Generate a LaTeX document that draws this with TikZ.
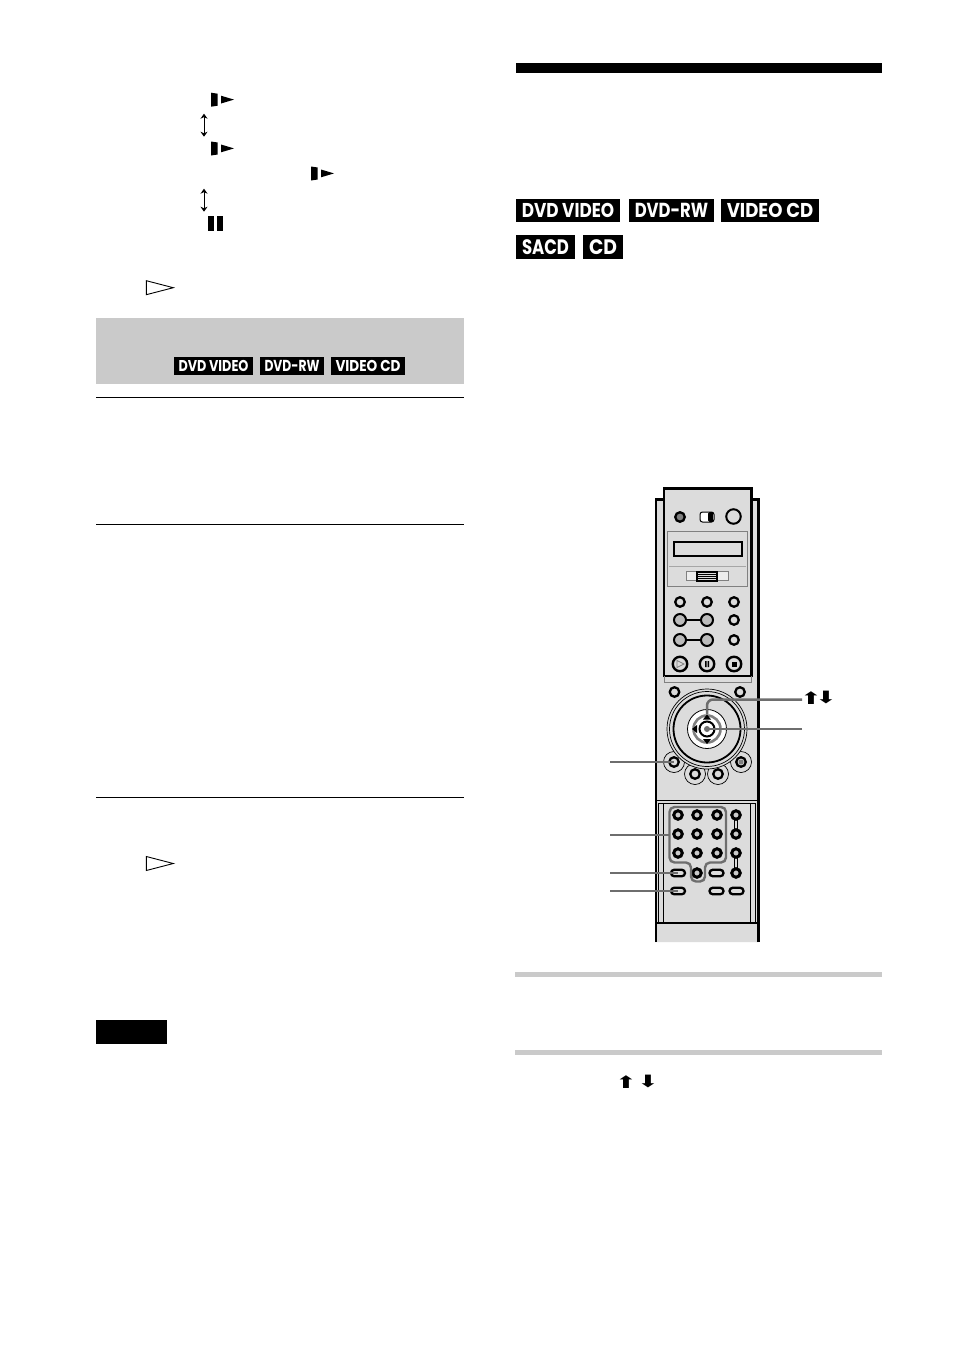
\documentclass[tikz,border=0pt]{standalone}
\usepackage{fontspec}
\usetikzlibrary{arrows.meta,shapes.misc}
\newfontfamily\badgefont{Poppins}
\newfontfamily\arrowfont{DejaVu Sans}
\definecolor{bodygray}{HTML}{DCDCDC}
\definecolor{bandgray}{HTML}{CACACA}
\definecolor{leadgray}{HTML}{6E6E6E}
\newcommand{\widearrow}[1]{\scalebox{1.5}[1]{#1}}
\tikzset{
    badge/.style={fill=black, text=white, inner sep=0pt, font=\badgefont\bfseries},
    rulethin/.style={line width=1pt, black},
    rbtn/.style={circle, draw=black, fill=bodygray, line width=2.3pt, minimum size=9.5pt, inner sep=0pt},
    rbtnmid/.style={rbtn, fill=bandgray!80!gray, line width=2pt, minimum size=12pt},
    rbtnbig/.style={rbtn, line width=2.4pt, minimum size=14.5pt},
    keybtn/.style={circle, draw=black, fill=bandgray, line width=3pt, minimum size=8.5pt, inner sep=0pt},
    ovalbtn/.style={rounded rectangle, draw=black, fill=bodygray, line width=2.3pt, minimum width=14pt, minimum height=6.5pt, inner sep=0pt},
    leader/.style={draw=leadgray, line width=2.5pt},
    boldarrow/.style={inner sep=0pt, font=\arrowfont\fontsize{17}{17}\selectfont},
    pics/playmark/.style={code={
        \fill (0,0) -- (6.7,1) -- (6.7,13) -- (0,14) -- cycle; % bar
        \fill (10,3) -- (23,6.9) -- (10,10.8) -- cycle;
    }},
    pics/hollowplay/.style={code={
        \draw[line width=0.9pt] (0,0) -- (27,7) -- (0,14) -- cycle;
    }},
    pics/pausemark/.style={code={
        \fill (0,0) rectangle (6.3,14.7);
        \fill (9,0) rectangle (15.3,14.7);
    }},
    pics/updown/.style={code={
        \draw[line width=1pt, {Stealth[length=5pt,width=7pt]}-{Stealth[length=5pt,width=7pt]}] (0,0) -- (0,23);
    }}
}

\begin{document}
\begin{tikzpicture}[x=1pt, y=-1pt]
    \useasboundingbox (0,0) rectangle (954,1352);
    \fill[white] (0,0) rectangle (954,1352);

    % left column
    \pic (playa) at (211,92.7) {playmark};
    \pic (updowna) at (204,113.7) {updown};
    \pic (playb) at (211,141.5) {playmark};
    \pic (playc) at (311,166.5) {playmark};
    \pic (updownb) at (204,188.7) {updown};
    \pic (pausea) at (207.7,216) {pausemark};
    \pic (hollowa) at (146.3,280.7) {hollowplay};
    \fill[bandgray] (96,318) rectangle (464,384);
    \draw[rulethin] (96,397) -- (464,397);
    \draw[rulethin] (96,524) -- (464,524);
    \draw[rulethin] (96,797) -- (464,797);
    \pic (hollowb) at (146.3,856.5) {hollowplay};
    \node[fill=black, minimum width=71pt, minimum height=24pt, inner sep=0pt] (notesbox) at (131.5,1032) {};

    % right column
    \fill (516,63) rectangle (882,73);
    \foreach \nm/\cx/\cy/\bw/\bh/\txt in {
        bigdvd/568/210.5/104/23/DVD VIDEO, bigrw/671.5/210.5/85/23/DVD-RW, bigvcd/770/210.5/98/23/VIDEO CD,
        bigsacd/545.5/247/59/24/SACD, bigcd/603/247/40/24/CD,
        smalldvd/213.5/366/79/18/DVD VIDEO, smallrw/292/366/64/18/DVD-RW, smallvcd/368/366/74/18/VIDEO CD}
    {
        \pgfmathsetlengthmacro{\tw}{(\bw-\bh*0.5)*1pt}
        \pgfmathsetlengthmacro{\tht}{\bh*0.62*1pt}
        \node[badge, minimum width=\bw pt, minimum height=\bh pt] (\nm) at (\cx,\cy) {\resizebox{\tw}{\tht}{\txt}};
    }
    \fill[bandgray] (515,972) rectangle (882,977);
    \fill[bandgray] (515,1050) rectangle (882,1055);
    \node[boldarrow] (stepup) at (626,1082) {\widearrow{⬆}};
    \node[boldarrow] (stepdown) at (648,1082) {\widearrow{⬇}};

    % remote body
    \fill[bodygray] (655,942) -- (655,499) -- (663,499) -- (663,488) -- (752,488) -- (752,499) -- (759,499) -- (759,942) -- cycle;
    \draw[line width=2.4pt] (656,942) -- (656,499.5) -- (663.5,499.5);
    \draw[line width=2.4pt] (758.5,942) -- (758.5,499.5) -- (751.5,499.5);
    \draw[line width=2.2pt] (664,676) -- (664,488.5) -- (751.5,488.5) -- (751.5,676) -- cycle;
    \draw[gray, line width=0.8pt] (664.5,676) -- (664.5,682) -- (751,682) -- (751,676);

    % top controls
    \node[rbtn, fill=gray] (ejectbtn) at (680,517) {};
    \node[draw=black, fill=white, rounded corners=2.5pt, line width=1pt, minimum width=14pt, minimum height=10pt, inner sep=0pt] (modesw) at (707,517) {};
    \fill[black, rounded corners=1.5pt] (708,512) rectangle (713,522);
    \node[rbtnbig, line width=2pt] (powerbtn) at (733.5,516.5) {};
    \draw[gray, line width=0.9pt, fill=bodygray] (667.5,531.5) -- (747.5,531.5) -- (747.5,586) -- (667.5,586) -- cycle;
    \draw[gray!70, line width=0.8pt] (669,566) -- (746,566);
    \node[draw=black, fill=bodygray, line width=2pt, minimum width=68pt, minimum height=14pt, inner sep=0pt] (lcdwin) at (707.5,549) {};
    \node[draw=gray, fill=bodygray!50!white, line width=0.7pt, minimum width=42pt, minimum height=9pt, inner sep=0pt] (sliderbar) at (707,576) {};
    \node[draw=black, fill=bodygray, line width=1.2pt, minimum width=20pt, minimum height=9pt, inner sep=0pt] (sliderknob) at (707,576.5) {};
    \draw[line width=0.7pt] (698,574.5) -- (716,574.5) (698,576.5) -- (716,576.5) (698,578.5) -- (716,578.5);

    % transport buttons
    \foreach \nm/\bx/\by in {ua/680/602, ub/707/602, uc/734/602, vc/734/620, wc/734/640}
        \node[rbtn] (\nm) at (\bx,\by) {};
    \foreach \nm/\bx/\by in {va/680/620, vb/707/620, wa/680/640, wb/707/640}
        \node[rbtnmid] (\nm) at (\bx,\by) {};
    \draw[line width=1.5pt] (va) -- (vb);
    \draw[line width=1.5pt] (wa) -- (wb);
    \foreach \nm/\bx in {playbtn/680, pausebtn/707, stopbtn/734}
        \node[rbtnbig] (\nm) at (\bx,664) {};
    \draw[gray, line width=0.7pt] (677,660.5) -- (684,664) -- (677,667.5) -- cycle;
    \fill (705,661) rectangle (706.5,667) (707.7,661) rectangle (709.2,667);
    \fill (731.5,661.5) rectangle (736.5,666.5);

    % wheel
    \node[rbtn] (topl) at (674.5,692) {};
    \node[rbtn] (topr) at (740,692) {};
    \foreach \nm/\bx/\by in {lobea/674/762, lobeb/695/774, lobec/718/774, lobed/741/762}
        \node[circle, draw=black, fill=bodygray, line width=0.7pt, minimum size=21pt, inner sep=0pt] (\nm) at (\bx,\by) {};
    \draw[line width=0.7pt, fill=bodygray] (707,729) circle (40);
    \draw[line width=0.7pt] (707,729) circle (37.5);
    \draw[line width=1.8pt, fill=bodygray] (707,729) circle (33.5);
    \draw[black, line width=0.8pt, fill=white] (707,729) circle (19.5);
    \draw[gray, line width=2.6pt] (707,729) circle (13.5);
    \foreach \nm/\bx/\by in {sela/674/762, selb/695/774, selc/718/774, seld/741/762}
        \node[rbtn] (\nm) at (\bx,\by) {};
    \fill[gray] (741,762) circle (2.5);
    \fill (707,714.5) -- (703,719.5) -- (711,719.5) -- cycle;
    \fill (707,744) -- (703,739) -- (711,739) -- cycle;
    \fill (692,729) -- (697,725) -- (697,733) -- cycle;
    \draw[line width=2pt, fill=white] (707,729) circle (7.5);
    \coordinate (wheelup) at (707,714);
    \node[circle, fill=leadgray, minimum size=6pt, inner sep=0pt] (enterbtn) at (707,729) {};

    % lower panel
    \draw[line width=1pt] (657,800.5) -- (757,800.5);
    \draw[line width=0.7pt] (658,803) -- (756,803);
    \draw[line width=0.7pt] (658,803) -- (658,923) (663,803) -- (663,923) (750,803) -- (750,923) (755,803) -- (755,923);
    \draw[line width=1.8pt] (656,923) -- (758,923);
    \foreach \nm/\bx/\by in {ka/678/815, kb/697/815, kc/717/815, kd/678/834, ke/697/834, kf/717/834,
                              kg/678/853, kh/697/853, ki/717/853, kzero/697/873,
                              ra/736/815, rb/736/834, rc/736/853, rd/736/873}
        \node[keybtn] (\nm) at (\bx,\by) {};
    \draw[line width=0.9pt] (734.5,820) -- (734.5,829) (737.5,820) -- (737.5,829);
    \draw[line width=0.9pt] (734.5,858) -- (734.5,868) (737.5,858) -- (737.5,868);
    \foreach \nm/\bx/\by in {ovala/678/873, ovalb/716.5/873, ovalc/678/891, ovald/716.5/891, ovale/736.5/891}
        \node[ovalbtn] (\nm) at (\bx,\by) {};
    \draw[leadgray, line width=2.4pt, rounded corners=5pt] (669.5,807) -- (726,807) -- (726,862.5) -- (705,862.5) -- (705,881.5) -- (691,881.5) -- (691,862.5) -- (669.5,862.5) -- cycle;
    \coordinate (padedge) at (669.5,835);

    % leader lines
    \coordinate (leadarrows) at (802,699.5);
    \coordinate (leadenter) at (802,729);
    \coordinate (leadsel) at (610,762);
    \coordinate (leadpad) at (610,835);
    \coordinate (leadclear) at (610,873);
    \coordinate (leadset) at (610,891);
    \draw[leader, rounded corners=6pt] (leadarrows) -| (wheelup);
    \draw[leader] (leadenter) -- (enterbtn.center);
    \draw[leader] (leadsel) -- (sela.center);
    \draw[leader] (leadpad) -- (padedge);
    \draw[leader] (leadclear) -- (ovala.center);
    \draw[leader] (leadset) -- (ovalc.center);
    \node[boldarrow] (labelup) at (811,698) {\widearrow{⬆}};
    \node[boldarrow] (labeldown) at (826,698) {\widearrow{⬇}};
\end{tikzpicture}
\end{document}
